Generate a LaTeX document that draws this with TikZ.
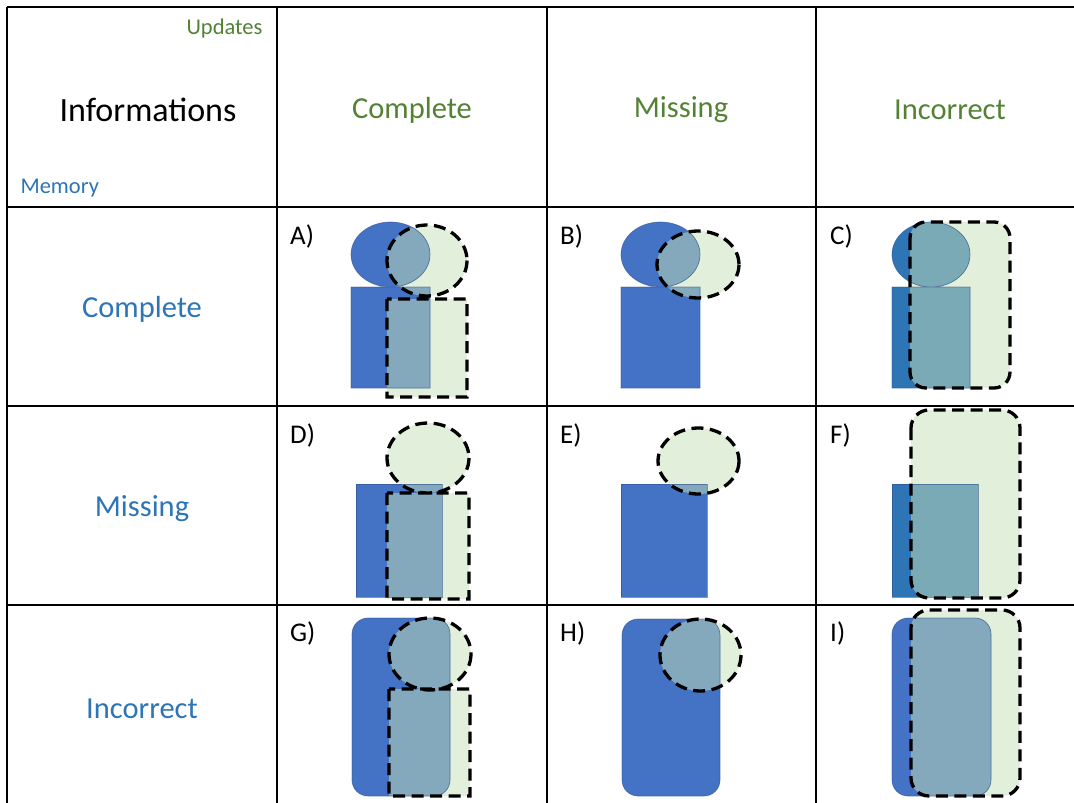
\documentclass[tikz,border=0pt]{standalone}
\usepackage{fontspec}
\setmainfont{Carlito}
\definecolor{memblue}{HTML}{4472C4}
\definecolor{memblueB}{HTML}{2E75B6}
\definecolor{memedge}{HTML}{2F528F}
\definecolor{updfill}{HTML}{E2EFDA}
\definecolor{mixA}{HTML}{84A8BC}
\definecolor{mixB}{HTML}{7AAAB6}
\definecolor{txtgreen}{HTML}{548235}
\definecolor{txtblue}{HTML}{2E75B6}
\tikzset{
  grid/.style={line width=1.6pt, black},
  memline/.style={draw=memedge, line width=0.7pt, draw opacity=0.6},
  updline/.style={draw=black, line width=3.3pt, dash pattern=on 12pt off 6.5pt},
  head/.style={font=\fontsize{30.5}{36}\selectfont, text=txtgreen},
  rowhead/.style={font=\fontsize{30.5}{36}\selectfont, text=txtblue},
  corner/.style={font=\fontsize{22.5}{27}\selectfont},
  caselabel/.style={font=\fontsize{27}{32}\selectfont, anchor=west, inner sep=0pt},
}
% #1 memory fill, #2 memory shapes, #3 update shapes, #4 fill where both overlap
\newcommand{\cellfig}[4]{%
  \fill[updfill] #3;
  \fill[#1] #2;
  \begin{scope}
    \clip #3;
    \fill[#4] #2;
  \end{scope}
  \draw[memline] #2;
  \draw[updline] #3;
}
\begin{document}
\begin{tikzpicture}[x=1pt,y=-1pt]
\useasboundingbox (0,0) rectangle (1074,803);
\fill[white] (0,0) rectangle (1074,803);

% table rules
\draw[grid] (7,7) -- (1074,7);
\draw[grid] (7,207) -- (1074,207);
\draw[grid] (7,406) -- (1074,406);
\draw[grid] (7,605) -- (1074,605);
\draw[grid] (7,7) -- (7,803);
\draw[grid] (277,7) -- (277,803);
\draw[grid] (547,7) -- (547,803);
\draw[grid] (816,7) -- (816,803);

% headings
\node[font=\fontsize{34}{40}\selectfont] (info) at (148,110) {Informations};
\node[corner, text=txtgreen, anchor=east] (upd) at (266,29) {Updates};
\node[corner, text=txtblue, anchor=west] (mem) at (17,188) {Memory};
\node[head] (hc) at (412,110) {Complete};
\node[head] (hm) at (681,110) {Missing};
\node[head] (hi) at (950,110) {Incorrect};
\node[rowhead] (rc) at (142,309) {Complete};
\node[rowhead] (rm) at (142,509) {Missing};
\node[rowhead] (ri) at (142,709) {Incorrect};

% case labels
\node[caselabel] (la) at (290,236) {A)};
\node[caselabel] (lb) at (560,236) {B)};
\node[caselabel] (lc) at (830,236) {C)};
\node[caselabel] (ld) at (290,435) {D)};
\node[caselabel] (le) at (560,435) {E)};
\node[caselabel] (lf) at (830,435) {F)};
\node[caselabel] (lg) at (290,633) {G)};
\node[caselabel] (lh) at (560,633) {H)};
\node[caselabel] (li) at (830,633) {I)};

% A: complete memory, complete update
\cellfig{memblue}{(390.5,254.5) ellipse [x radius=39.5, y radius=32.5] (351,287) rectangle (430,388)}
  {(427,260.5) ellipse [x radius=40, y radius=35.5] (387,299) rectangle (467,397)}{mixA}
% B: complete memory, missing update
\cellfig{memblue}{(660.5,254.5) ellipse [x radius=39.5, y radius=32.5] (621,287) rectangle (700,388)}
  {(698,264.5) ellipse [x radius=41, y radius=33.5]}{mixA}
% C: complete memory, incorrect update
\cellfig{memblueB}{(931,254.5) ellipse [x radius=39, y radius=32.5] (892,287) rectangle (970,388)}
  {[rounded corners=16pt] (910,222) rectangle (1010,388)}{mixB}
% D: missing memory, complete update
\cellfig{memblue}{(356,484) rectangle (442,597)}
  {(428,458) ellipse [x radius=41, y radius=35] (387,493) rectangle (469,599)}{mixA}
% E: missing memory, missing update
\cellfig{memblue}{(621,484) rectangle (707,597)}
  {(698.5,461) ellipse [x radius=40.5, y radius=33]}{mixA}
% F: missing memory, incorrect update
\cellfig{memblueB}{(892,484) rectangle (978,597)}
  {[rounded corners=18pt] (911,410) rectangle (1020,598)}{mixB}
% G: incorrect memory, complete update
\cellfig{memblue}{[rounded corners=16pt] (352,618) rectangle (450,796)}
  {(430,654) ellipse [x radius=41, y radius=36] (389,689) rectangle (470,796)}{mixA}
% H: incorrect memory, missing update
\cellfig{memblue}{[rounded corners=16pt] (622,619) rectangle (720,796)}
  {(700.5,655) ellipse [x radius=40.5, y radius=36]}{mixA}
% I: incorrect memory, incorrect update
\cellfig{memblue}{[rounded corners=16pt] (892,618) rectangle (991,796)}
  {[rounded corners=18pt] (911,610) rectangle (1020,796)}{mixA}
\end{tikzpicture}
\end{document}
